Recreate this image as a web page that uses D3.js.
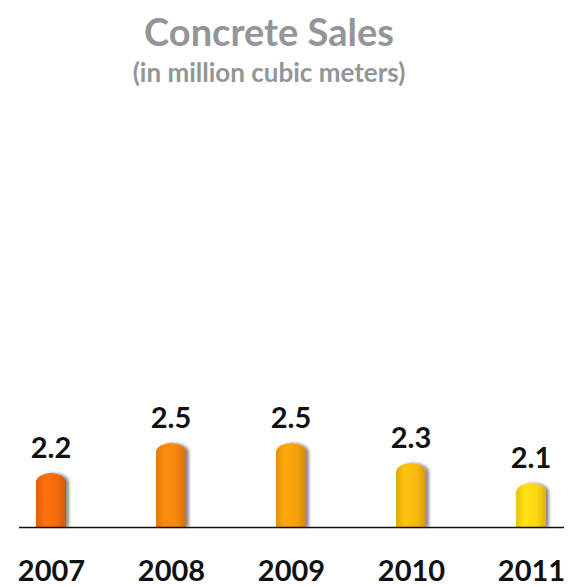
<!DOCTYPE html>
<html>
<head>
<meta charset="utf-8">
<script src="https://cdn.jsdelivr.net/npm/d3@7"></script>
<style>
  body { margin: 0; background: #fff; }
  svg { display: block; font-family: Lato, "Open Sans", sans-serif; }
</style>
</head>
<body>
<div id="chart"></div>
<script>
// data
const years = ['2007', '2008', '2009', '2010', '2011'];
const sales = [2.2, 2.5, 2.5, 2.3, 2.1];
const barColors = ['#f26a0a', '#f5850f', '#f5a00f', '#f7b80e', '#fdd512'];

const width = 572, height = 587;
const axisY = 527;

const svg = d3.select('#chart').append('svg')
  .attr('width', width)
  .attr('height', height);

const defs = svg.append('defs');

// soft shadow to the right of each bar
defs.append('filter').attr('id', 'shadow')
  .attr('x', '-30%').attr('y', '-30%').attr('width', '170%').attr('height', '160%')
  .call(f => {
    f.append('feGaussianBlur').attr('in', 'SourceAlpha').attr('stdDeviation', 1.6);
    f.append('feOffset').attr('dx', 3).attr('dy', 0).attr('result', 'off');
    f.append('feComponentTransfer').call(c => c.append('feFuncA').attr('type', 'linear').attr('slope', 0.45));
    f.append('feMerge').call(m => {
      m.append('feMergeNode');
      m.append('feMergeNode').attr('in', 'SourceGraphic');
    });
  });

barColors.forEach((c, i) => {
  const g = defs.append('linearGradient').attr('id', 'grad' + i)
    .attr('x1', '0%').attr('x2', '100%').attr('y1', '0%').attr('y2', '0%');
  const base = d3.color(c);
  g.append('stop').attr('offset', '0%').attr('stop-color', base.darker(0.25));
  g.append('stop').attr('offset', '30%').attr('stop-color', base.brighter(0.15));
  g.append('stop').attr('offset', '70%').attr('stop-color', base);
  g.append('stop').attr('offset', '100%').attr('stop-color', base.darker(0.45));
});

const x = d3.scalePoint()
  .domain(years)
  .range([51, 531]);

const y = d3.scaleLinear()
  .domain([1.66, 2.5])
  .range([axisY, 443]);

const barW = 30, capH = 9;

function barPath(d, i) {
  const cx = x(years[i]), x0 = cx - barW / 2, x1 = cx + barW / 2;
  const top = y(d);
  return `M${x0},${axisY} L${x0},${top + capH} ` +
    `A${barW / 2},${capH} 0 0 1 ${x1},${top + capH} ` +
    `L${x1},${axisY} Z`;
}

svg.append('g').attr('class', 'bars')
  .selectAll('path')
  .data(sales)
  .join('path')
  .attr('d', barPath)
  .attr('fill', (d, i) => `url(#grad${i})`)
  .attr('filter', 'url(#shadow)');

// baseline
svg.append('line')
  .attr('x1', 19).attr('x2', 564)
  .attr('y1', axisY + 0.5).attr('y2', axisY + 0.5)
  .attr('stroke', '#111').attr('stroke-width', 1.5);

// value labels
svg.append('g').selectAll('text')
  .data(sales)
  .join('text')
  .attr('x', (d, i) => x(years[i]))
  .attr('y', d => y(d) - 15)
  .attr('text-anchor', 'middle')
  .attr('font-size', 29)
  .attr('font-weight', 'bold')
  .attr('fill', '#111')
  .text(d => d3.format('.1f')(d));

// year labels
const xAxis = d3.axisBottom(x).tickSize(0).tickPadding(0);
svg.append('g')
  .attr('transform', `translate(0,${581})`)
  .call(xAxis)
  .call(g => g.select('.domain').remove())
  .call(g => g.selectAll('text')
    .attr('dy', 0)
    .attr('font-size', 29)
    .attr('font-weight', 'bold')
    .attr('font-family', 'Lato, "Open Sans", sans-serif')
    .attr('fill', '#111'));

// titles
svg.append('text')
  .attr('x', 269).attr('y', 46)
  .attr('text-anchor', 'middle')
  .attr('font-size', 38)
  .attr('font-weight', 'bold')
  .attr('fill', '#939598')
  .text('Concrete Sales');

svg.append('text')
  .attr('x', 269).attr('y', 82)
  .attr('text-anchor', 'middle')
  .attr('font-size', 26)
  .attr('font-weight', 'bold')
  .attr('fill', '#939598')
  .text('(in million cubic meters)');
</script>
</body>
</html>
